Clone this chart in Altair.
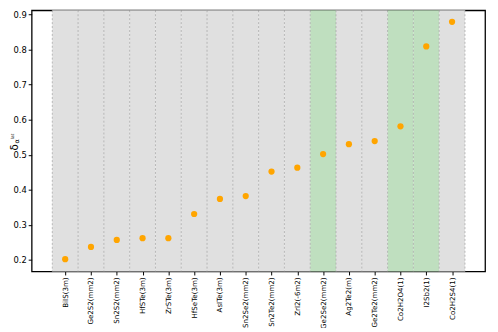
import altair as alt
import pandas as pd

labels = ["BiIS(3m)", "Ge2S2(mm2)", "Sn2S2(mm2)", "HfSTe(3m)", "ZrSTe(3m)",
          "HfSeTe(3m)", "AsITe(3m)", "Sn2Se2(mm2)", "Sn2Te2(mm2)", "ZrI2(-6m2)",
          "Ge2Se2(mm2)", "Ag2Te2(m)", "Ge2Te2(mm2)", "Co2H2O4(1)", "I2Sb2(1)",
          "Co2H2S4(1)"]
values = [0.202, 0.237, 0.257, 0.262, 0.262, 0.331, 0.374, 0.382, 0.452,
          0.463, 0.502, 0.530, 0.539, 0.581, 0.809, 0.879]
highlight = ["Ge2Se2(mm2)", "Co2H2O4(1)", "I2Sb2(1)"]

n = len(labels)
df = pd.DataFrame({"i": list(range(n)), "label": labels, "v": values})
df["lo"] = df["i"] - 0.5
df["hi"] = df["i"] + 0.5
df["hl"] = df["label"].isin(highlight)
edges = pd.DataFrame({"e": [k - 0.5 for k in range(n + 1)]})

label_expr = "[" + ",".join("'%s'" % l for l in labels) + "][datum.value]"

xs = alt.Scale(domain=[-1.3, 16.28], nice=False, zero=False)
ys = alt.Scale(domain=[0.167, 0.912], nice=False, zero=False)

xaxis = alt.Axis(values=list(range(n)), labelExpr=label_expr, labelAngle=-90,
                 labelFontSize=7.2, labelColor="black", tickColor="black",
                 tickSize=3.5, grid=False, domain=False, title=None, labelPadding=2,
                 labelOverlap=False, labelBound=False)
yaxis = alt.Axis(values=[0.2, 0.3, 0.4, 0.5, 0.6, 0.7, 0.8, 0.9], format=".1f",
                 labelFontSize=8.5, labelColor="black", tickColor="black",
                 tickSize=3.5, grid=False, domain=False, title=None, labelPadding=2,
                 labelOverlap=False)

bands = alt.Chart(df).mark_rect(stroke=None).encode(
    x=alt.X("lo:Q", scale=xs, axis=xaxis),
    x2="hi:Q",
    y=alt.value(0), y2=alt.value(265),
    color=alt.Color("hl:N", scale=alt.Scale(domain=[False, True],
                                             range=["#e0e0e0", "#bfdfbf"]), legend=None),
)

lines = alt.Chart(edges).mark_rule(color="#aaaaaa", strokeDash=[2, 2], strokeWidth=0.8).encode(
    x=alt.X("e:Q", scale=xs, axis=xaxis), y=alt.value(0), y2=alt.value(265)
)

pts = alt.Chart(df).mark_circle(color="#ffa500", opacity=1, size=40).encode(
    x=alt.X("i:Q", scale=xs, axis=xaxis),
    y=alt.Y("v:Q", scale=ys, axis=yaxis),
)

t1 = alt.Chart(df.head(1)).mark_text(text="δ", angle=270, fontSize=10.5, font="DejaVu Sans",
                                     color="black", baseline="alphabetic").encode(
    x=alt.value(-14), y=alt.value(139))
t2 = alt.Chart(df.head(1)).mark_text(text="α", angle=270, fontSize=6.5, font="DejaVu Sans",
                                     color="black", baseline="alphabetic").encode(
    x=alt.value(-13), y=alt.value(133))
t3 = alt.Chart(df.head(1)).mark_text(text="lat", angle=270, fontSize=4.5, font="DejaVu Sans",
                                     color="black", baseline="alphabetic").encode(
    x=alt.value(-17.5), y=alt.value(128))

chart = alt.layer(bands, lines, pts, t1, t2, t3).properties(
    width=460, height=265,
    padding={"left": 24, "top": 0, "right": 5, "bottom": 55},
    autosize=alt.AutoSizeParams(type="none"),
).configure_view(stroke="black", strokeWidth=1.3).configure_axis(
    labelFont="DejaVu Sans").configure_axisX(labelOverlap=False)

chart.save("out.html", embed_options={"renderer": "svg", "actions": False})
